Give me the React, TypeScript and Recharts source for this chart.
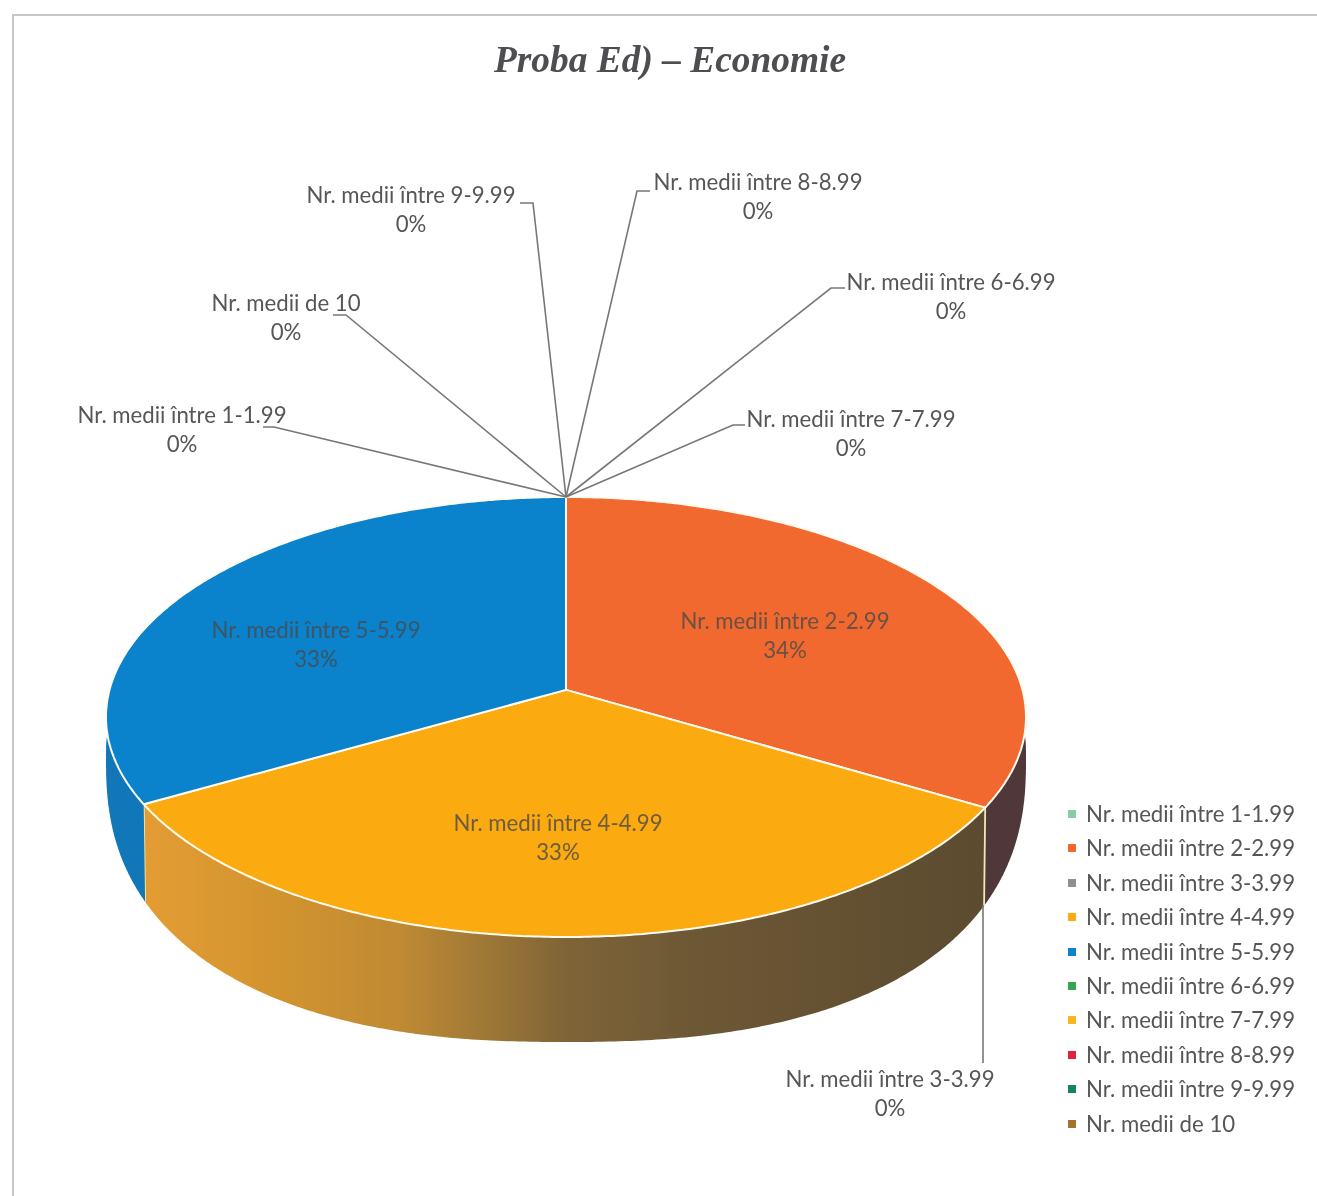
import React from 'react';
import { PieChart, Pie, Legend } from 'recharts';

const categories = [
  'Nr. medii între 1-1.99',
  'Nr. medii între 2-2.99',
  'Nr. medii între 3-3.99',
  'Nr. medii între 4-4.99',
  'Nr. medii între 5-5.99',
  'Nr. medii între 6-6.99',
  'Nr. medii între 7-7.99',
  'Nr. medii între 8-8.99',
  'Nr. medii între 9-9.99',
  'Nr. medii de 10',
];
const shares = [0, 33.5, 0, 33.25, 33.25, 0, 0, 0, 0, 0];
const colors = [
  '#86cfa4', '#f1692f', '#8f8f8f', '#fbaa10', '#0a82cc',
  '#3aa34f', '#f9b51d', '#e0243f', '#14855c', '#a5702f',
];

const data = categories.map((name, i) => ({ name, value: shares[i], fill: colors[i] }));

const FONT = 'Lato, sans-serif';
const FONT_SIZE = 22.2;
const TEXT = '#565656';

// top face of the drum and the perspective shift of the pie centre
const TOP = { cy: 717, rx: 460, ry: 220 };
const SHIFT = -0.123;
// the lower edge is flatter at the sides than an ellipse, so it gets its own curve
const BOTTOM = { cy: 760, rx: 460, ry: 282, shift: 0.01, power: 2.4 };

// label centre per slice, and the leader line where a slice has one
const labelCenters: [number, number][] = [
  [182, 415], [785, 621], [890, 1079], [558, 823], [316, 630],
  [951, 282], [851, 419], [758, 182], [411, 195], [286, 303],
];
const leaders: (number[][] | null)[] = [
  [[263, 427], [274, 427], [566, 497]],
  null,
  [[983, 905], [983, 1063]],
  null,
  null,
  [[845, 288], [831, 288], [566, 497]],
  [[745, 425], [733, 425], [566, 497]],
  [[650, 191], [637, 191], [566, 497]],
  [[520, 203], [533, 203], [566, 497]],
  [[333, 315], [346, 315], [566, 497]],
];

const wallFills: Record<number, [number, string][]> = {
  1: [[0, '#55393a'], [1, '#50383a']],
  3: [
    [0, '#e39c34'], [0.15, '#d2942f'], [0.3, '#c08a33'], [0.4, '#9f7836'],
    [0.5, '#7f6437'], [0.65, '#6d5835'], [1, '#5c4b30'],
  ],
  4: [[0, '#1277b8'], [1, '#0f6fae']],
};

const topPoint = (deg: number, cx: number) => {
  const a = (deg * Math.PI) / 180;
  const x = Math.cos(a);
  const y = -Math.sin(a);
  const w = 1 + SHIFT * y;
  const k = Math.sqrt(1 - SHIFT * SHIFT);
  return [cx + (TOP.rx * x * k) / w, TOP.cy + (TOP.ry * (y + SHIFT)) / w];
};

const bottomPoint = (deg: number, cx: number) => {
  const a = (deg * Math.PI) / 180;
  const y = -Math.sin(a);
  const Y = (y + BOTTOM.shift) / (1 + BOTTOM.shift * y);
  const X = Math.pow(1 - Math.pow(Math.abs(Y), BOTTOM.power), 1 / BOTTOM.power);
  return [cx + Math.sign(Math.cos(a)) * BOTTOM.rx * X, BOTTOM.cy + BOTTOM.ry * Y];
};

const toPath = (pts: number[][]) =>
  pts.map((p, i) => `${i ? 'L' : 'M'}${p[0].toFixed(1)} ${p[1].toFixed(1)}`).join(' ');

function DrumSlice(props: any) {
  const { cx, startAngle, endAngle, fill, index } = props;
  if (Math.abs(endAngle - startAngle) < 0.01) return null;

  const angles: number[] = [];
  const steps = Math.ceil(Math.abs(endAngle - startAngle) * 2);
  for (let i = 0; i <= steps; i++) angles.push(startAngle + ((endAngle - startAngle) * i) / steps);

  const rim = angles.map((a) => topPoint(a, cx));
  const centre = [cx, TOP.cy + TOP.ry * SHIFT];

  const front = angles.filter((a) => Math.sin((a * Math.PI) / 180) <= 0.08);
  const frontTop = front.map((a) => topPoint(a, cx));
  const frontBottom = front.map((a) => bottomPoint(a, cx)).reverse();
  const stops = wallFills[index] || [[0, fill], [1, fill]];
  const gradId = `wall-${index}`;

  return (
    <g>
      <defs>
        <linearGradient id={gradId} gradientUnits="userSpaceOnUse" x1={150} y1={0} x2={983} y2={0}>
          {stops.map(([o, c]) => (
            <stop key={o} offset={o} stopColor={c} />
          ))}
        </linearGradient>
      </defs>
      {front.length > 1 && <path d={toPath([...frontTop, ...frontBottom]) + ' Z'} fill={`url(#${gradId})`} />}
      {index === 3 && front.length > 1 && (
        <>
          <path d={toPath([frontTop[0], frontBottom[frontBottom.length - 1]])} stroke="#f4e6b4" strokeWidth={1.8} fill="none" />
          <path d={toPath([frontTop[frontTop.length - 1], frontBottom[0]])} stroke="#f4e6b4" strokeWidth={1.8} fill="none" />
        </>
      )}
      <path d={toPath([centre, ...rim]) + ' Z'} fill={fill} stroke="#fdfbf0" strokeWidth={2} strokeLinejoin="round" />
    </g>
  );
}

function SliceLabel(props: any) {
  const { index, percent, name, value } = props;
  const [x, y] = labelCenters[index];
  const inside = value > 0;
  return (
    <text
      x={x}
      y={y + 8}
      textAnchor="middle"
      fontFamily={FONT}
      fontSize={FONT_SIZE}
      fill={inside ? '#4a4a4a' : TEXT}
      fillOpacity={inside ? 0.8 : 1}
    >
      <tspan x={x}>{name}</tspan>
      <tspan x={x} dy={29}>{`${Math.round(percent * 100)}%`}</tspan>
    </text>
  );
}

function LeaderLine(props: any) {
  const pts = leaders[props.index];
  if (!pts) return <g />;
  return <path d={toPath(pts)} fill="none" stroke="#777" strokeWidth={1.6} />;
}

function SideLegend({ payload }: any) {
  return (
    <div style={{ fontFamily: FONT, fontSize: FONT_SIZE, color: TEXT }}>
      {(payload || []).map((item: any) => (
        <div key={item.value} style={{ height: 34.4, lineHeight: '34.4px', whiteSpace: 'nowrap', position: 'relative', paddingLeft: 18 }}>
          <span style={{ position: 'absolute', left: 0, top: 13, width: 8, height: 8, background: item.color }} />
          {item.value}
        </div>
      ))}
    </div>
  );
}

export default function App() {
  return (
    <div style={{ position: 'absolute', left: 0, top: 0, width: 1317, height: 1196, overflow: 'hidden', background: '#fff', filter: 'blur(0.4px)' }}>
      <div style={{ position: 'absolute', left: 12, top: 14, right: 0, height: 2, background: '#c6c6c6' }} />
      <div style={{ position: 'absolute', left: 12, top: 14, bottom: 0, width: 2, background: '#c6c6c6' }} />
      <div
        style={{
          position: 'absolute',
          left: 370,
          width: 600,
          top: 38,
          textAlign: 'center',
          font: 'italic bold 37.4px "Liberation Serif", serif',
          color: '#4d4d52',
        }}
      >
        Proba Ed) – Economie
      </div>
      <PieChart width={1317} height={1196} margin={{ top: 0, right: 0, bottom: 0, left: 0 }} style={{ position: 'absolute', left: 0, top: 0 }}>
        <Pie
          data={data}
          dataKey="value"
          nameKey="name"
          cx={566}
          cy={717}
          outerRadius={460}
          startAngle={90}
          endAngle={-270}
          stroke="none"
          isAnimationActive={false}
          shape={DrumSlice}
          label={SliceLabel}
          labelLine={LeaderLine}
        />
        <Legend
          content={SideLegend}
          itemSorter={null}
          layout="vertical"
          wrapperStyle={{ position: 'absolute', left: 1068, top: 797, width: 240, bottom: 'auto', right: 'auto' }}
        />
      </PieChart>
    </div>
  );
}
